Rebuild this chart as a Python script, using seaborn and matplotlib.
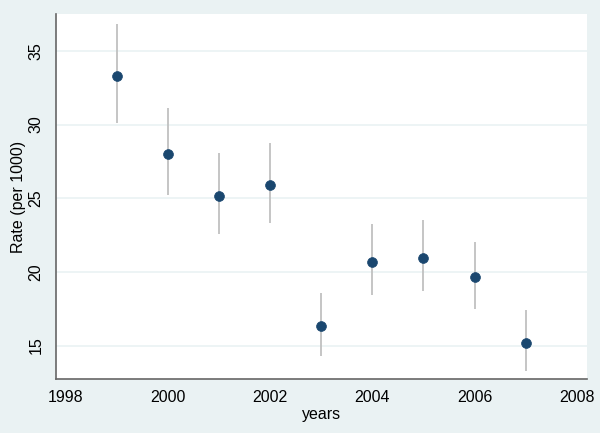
import matplotlib
matplotlib.use("Agg")
import matplotlib.pyplot as plt
import seaborn as sns
import pandas as pd

years = [1999, 2000, 2001, 2002, 2003, 2004, 2005, 2006, 2007]
rate = [33.3, 28.0, 25.15, 25.9, 16.3, 20.7, 20.95, 19.65, 15.2]
lower = [30.1, 25.2, 22.6, 23.3, 14.3, 18.45, 18.7, 17.45, 13.3]
upper = [36.85, 31.15, 28.05, 28.75, 18.55, 23.25, 23.5, 22.05, 17.4]

x_ticks = [1998, 2000, 2002, 2004, 2006, 2008]
y_ticks = [15, 20, 25, 30, 35]

df = pd.DataFrame({"years": years, "rate": rate, "lo": lower, "hi": upper})

sns.set_style("white")
plt.rcParams['font.family'] = ['Liberation Sans', 'DejaVu Sans']
plt.rcParams['text.color'] = 'black'
plt.rcParams['axes.labelcolor'] = 'black'
plt.rcParams['xtick.color'] = 'black'
plt.rcParams['ytick.color'] = 'black'

bg = "#eaf2f3"
fig = plt.figure(figsize=(6, 4.33), dpi=100, facecolor=bg)
ax = fig.add_axes([0.0933, 0.1247, 0.885, 0.843])
ax.set_facecolor("white")

for y in y_ticks:
    ax.axhline(y, color=bg, lw=1.2, zorder=0)

ax.vlines(df["years"], df["lo"], df["hi"], color="#c0c0c0", lw=1.3, zorder=1)
sns.scatterplot(data=df, x="years", y="rate", ax=ax, color="#1a476f",
                s=50, edgecolor="#1a476f", linewidth=0.5, zorder=2)

ax.set_xlim(1997.81, 2008.2)
ax.set_ylim(12.73, 37.5)
ax.set_xticks(x_ticks)
ax.set_yticks(y_ticks)
ax.set_xlabel("years", fontsize=11.5, labelpad=1)
ax.set_ylabel("Rate (per 1000)", fontsize=11.5)
ax.yaxis.set_label_coords(-0.056, 0.5)
ax.tick_params(axis="both", labelsize=11.5, length=6, width=0.9, direction="out",
               color="#666666", labelcolor="black")
ax.tick_params(axis="x", pad=2)
ax.tick_params(axis="y", pad=3)
for lab in ax.get_yticklabels():
    lab.set_rotation(90)
    lab.set_va("center")

for side in ["top", "right"]:
    ax.spines[side].set_visible(False)
for side in ["left", "bottom"]:
    ax.spines[side].set_color("#666666")
    ax.spines[side].set_linewidth(1.2)

fig.savefig("out.png", dpi=100, facecolor=bg)
